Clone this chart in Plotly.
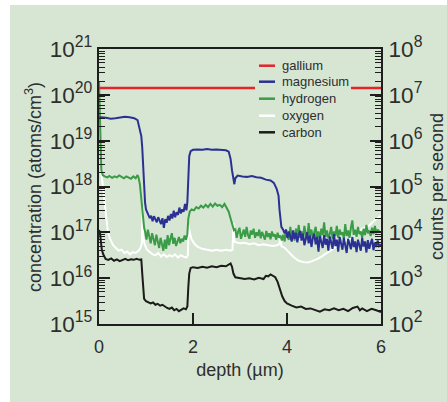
import plotly.graph_objects as go

# ---------------- data (depth in µm, log10 of concentration in atoms/cm^3) -------------
ga_depth = [0.0, 6.0]
ga_log10 = [20.15, 20.15]

mg_depth = [0.00, 0.05, 0.15, 0.25, 0.35, 0.45, 0.55, 0.65, 0.75, 0.82, 0.86, 0.90, 0.92, 0.94, 0.96, 0.98, 1.00, 1.03,
            1.05, 1.08, 1.11, 1.14, 1.17, 1.20, 1.23, 1.26, 1.29, 1.32, 1.35, 1.38, 1.41, 1.44, 1.47, 1.50, 1.53, 1.56,
            1.59, 1.62, 1.65, 1.68, 1.71, 1.74, 1.77, 1.80, 1.83, 1.86, 1.88,
            1.90, 1.92, 1.95, 2.00, 2.10, 2.20, 2.30, 2.40, 2.50, 2.60, 2.70, 2.76, 2.80, 2.83, 2.86, 2.88, 2.90, 2.95,
            3.05, 3.15, 3.25, 3.35, 3.45, 3.55, 3.65, 3.72, 3.78, 3.82, 3.84, 3.86, 3.88, 3.92,
            3.95, 3.98, 4.01, 4.04, 4.07, 4.10, 4.13, 4.16, 4.19, 4.22, 4.25, 4.28, 4.31, 4.34, 4.37, 4.40, 4.43, 4.46,
            4.49, 4.52, 4.55, 4.58, 4.61, 4.64, 4.67, 4.70, 4.73, 4.76, 4.79, 4.82, 4.85, 4.88, 4.91, 4.94, 4.97, 5.00,
            5.03, 5.06, 5.09, 5.12, 5.15, 5.18, 5.21, 5.24, 5.27, 5.30, 5.33, 5.36, 5.39, 5.42, 5.45, 5.48, 5.51, 5.54,
            5.57, 5.60, 5.63, 5.66, 5.69, 5.72, 5.75, 5.78, 5.81, 5.84, 5.87, 5.90, 5.93, 5.96, 6.00]
mg_log10 = [19.50, 19.51, 19.50, 19.48, 19.49, 19.51, 19.52, 19.51, 19.49, 19.45, 19.30, 19.10, 18.85, 18.40, 17.90, 17.65, 17.50, 17.42,
            17.38, 17.31, 17.36, 17.24, 17.35, 17.30, 17.22, 17.33, 17.27, 17.18, 17.31, 17.10, 17.29, 17.21, 17.36, 17.26, 17.40, 17.30,
            17.47, 17.33, 17.44, 17.38, 17.54, 17.41, 17.50, 17.45, 17.62, 17.48, 17.66,
            18.30, 18.66, 18.77, 18.80, 18.81, 18.80, 18.82, 18.80, 18.81, 18.80, 18.79, 18.76, 18.60, 18.35, 18.15, 18.05, 18.18, 18.24,
            18.22, 18.21, 18.23, 18.20, 18.19, 18.15, 18.13, 18.08, 17.95, 17.80, 17.50, 17.25, 17.12, 17.05,
            16.98, 17.06, 16.88, 17.02, 16.91, 16.80, 17.04, 16.86, 16.99, 16.78, 16.95, 17.03, 16.82, 16.97, 16.72, 16.90, 17.00, 16.76,
            16.93, 16.68, 16.88, 16.97, 16.74, 16.90, 16.58, 16.92, 16.80, 16.66, 16.94, 16.73, 16.86, 16.60, 16.91, 16.78, 16.64, 16.96,
            16.70, 16.84, 16.58, 16.90, 16.74, 16.62, 16.88, 16.70, 16.55, 16.86, 16.76, 16.63, 16.90, 16.68, 16.80, 16.57, 16.84, 16.72,
            16.60, 16.88, 16.69, 16.80, 16.56, 16.83, 16.64, 16.76, 16.86, 16.61, 16.78, 16.68, 16.82, 16.70, 16.74]

h_depth = [0.00, 0.01, 0.02, 0.03, 0.05, 0.08, 0.12, 0.18, 0.22, 0.28, 0.33, 0.38, 0.43, 0.48, 0.53, 0.58, 0.63, 0.68, 0.73,
           0.78, 0.82, 0.84, 0.87, 0.90, 0.92, 0.94, 0.96,
           0.98, 1.01, 1.04, 1.07, 1.10, 1.13, 1.16, 1.19, 1.22, 1.25, 1.28, 1.31, 1.34, 1.37, 1.40, 1.43, 1.46, 1.49, 1.52,
           1.55, 1.58, 1.61, 1.64, 1.67, 1.70, 1.73, 1.76, 1.79, 1.82, 1.85, 1.88,
           1.90, 1.93, 1.97, 2.02, 2.07, 2.12, 2.17, 2.22, 2.27, 2.32, 2.37, 2.42, 2.47, 2.52, 2.57, 2.62, 2.67, 2.72, 2.76,
           2.80, 2.84, 2.87,
           2.90, 2.93, 2.96, 2.99, 3.02, 3.05, 3.08, 3.11, 3.14, 3.17, 3.20, 3.23, 3.26, 3.29, 3.32, 3.35, 3.38, 3.41, 3.44,
           3.47, 3.50, 3.53, 3.56, 3.59, 3.62, 3.65, 3.68, 3.71, 3.74, 3.77, 3.80, 3.83, 3.86, 3.89,
           3.92, 3.95, 3.98, 4.01, 4.04, 4.07, 4.10, 4.13, 4.16, 4.19, 4.22, 4.25, 4.28, 4.31, 4.34, 4.37, 4.40, 4.43, 4.46,
           4.49, 4.52, 4.55, 4.58, 4.61, 4.64, 4.67, 4.70, 4.73, 4.76, 4.79, 4.82, 4.85, 4.88, 4.91, 4.94, 4.97, 5.00, 5.03,
           5.06, 5.09, 5.12, 5.15, 5.18, 5.21, 5.24, 5.27, 5.30, 5.33, 5.36, 5.39, 5.42, 5.45, 5.48, 5.51, 5.54, 5.57, 5.60,
           5.63, 5.66, 5.69, 5.72, 5.75, 5.78, 5.81, 5.84, 5.87, 5.90, 5.93, 5.96, 6.00]
h_log10 = [20.30, 19.80, 19.20, 18.70, 18.35, 18.25, 18.22, 18.20, 18.23, 18.19, 18.22, 18.20, 18.24, 18.21, 18.18, 18.22, 18.20, 18.17, 18.22,
           18.18, 18.25, 18.20, 18.05, 17.75, 17.45, 17.25, 17.10,
           17.02, 16.84, 17.06, 16.90, 16.76, 16.98, 16.82, 16.72, 16.95, 16.78, 16.66, 16.88, 16.70, 16.60, 16.84, 16.64, 16.94, 16.72, 16.86,
           16.98, 16.75, 16.88, 16.70, 16.82, 16.90, 16.76, 16.86, 16.80, 16.93, 16.84, 16.96,
           17.30, 17.45, 17.50, 17.48, 17.55, 17.52, 17.58, 17.54, 17.60, 17.55, 17.62, 17.56, 17.63, 17.58, 17.60, 17.55, 17.62, 17.52, 17.45,
           17.30, 17.15, 17.05,
           17.08, 16.88, 17.02, 17.10, 16.86, 16.98, 17.06, 16.90, 17.12, 16.94, 16.86, 17.04, 16.95, 17.08, 16.88, 17.00, 16.92, 17.06, 16.87,
           17.01, 16.93, 16.84, 17.03, 16.90, 16.98, 16.85, 17.02, 16.91, 16.96, 16.84, 16.99, 16.88, 16.93, 16.82,
           16.95, 16.80, 17.06, 16.90, 16.84, 17.12, 16.92, 17.00, 16.82, 17.08, 16.94, 17.16, 16.88, 17.02, 16.86, 17.14, 16.96, 16.85, 17.20,
           16.92, 17.06, 16.86, 17.00, 17.12, 16.88, 17.02, 16.84, 17.08, 16.94, 17.22, 16.90, 17.04, 16.88, 16.96, 17.12, 16.86, 17.02, 16.92,
           17.14, 16.88, 17.06, 16.95, 17.00, 16.86, 17.18, 16.92, 17.04, 16.88, 17.10, 17.26, 16.94, 17.06, 16.90, 17.12, 16.96, 17.02, 16.88,
           17.08, 16.94, 17.16, 16.98, 17.04, 16.92, 17.10, 16.96, 17.14, 16.98, 17.06, 17.02]

o_depth = [0.04, 0.06, 0.09, 0.12, 0.15, 0.19, 0.24, 0.30, 0.36, 0.42, 0.48, 0.54, 0.60, 0.66, 0.72, 0.78, 0.84, 0.88, 0.91,
           0.93, 0.94, 0.97, 1.02, 1.08, 1.14, 1.20, 1.26, 1.32, 1.38, 1.44, 1.50, 1.56, 1.62, 1.68, 1.74, 1.80, 1.86, 1.89,
           1.91, 1.93, 1.97, 2.03, 2.10, 2.20, 2.30, 2.40, 2.50, 2.60, 2.70, 2.80, 2.84, 2.86, 2.88, 2.92, 3.00, 3.10, 3.20,
           3.30, 3.40, 3.50, 3.60, 3.70, 3.80, 3.84, 3.86, 3.88, 3.95, 4.05, 4.15, 4.25, 4.35, 4.45, 4.55, 4.65, 4.75, 4.85,
           4.95, 5.05, 5.15, 5.25, 5.35, 5.45, 5.55, 5.65, 5.75, 5.85, 5.95, 6.00]
o_log10 = [18.40, 18.20, 18.00, 17.70, 17.30, 17.00, 16.85, 16.72, 16.66, 16.60, 16.62, 16.55, 16.58, 16.52, 16.57, 16.55, 16.60, 16.65, 16.75,
           17.55, 16.90, 16.74, 16.62, 16.56, 16.52, 16.50, 16.55, 16.47, 16.52, 16.46, 16.50, 16.47, 16.52, 16.45, 16.50, 16.47, 16.45, 16.50,
           17.15, 17.00, 16.85, 16.75, 16.68, 16.64, 16.62, 16.60, 16.62, 16.60, 16.62, 16.60, 16.62, 17.20, 16.80, 16.78, 16.76, 16.77, 16.74,
           16.76, 16.72, 16.74, 16.72, 16.70, 16.72, 16.75, 16.90, 16.70, 16.66, 16.55, 16.45, 16.38, 16.35, 16.34, 16.38, 16.42, 16.48, 16.55,
           16.62, 16.70, 16.76, 16.82, 16.86, 16.95, 17.05, 17.10, 17.15, 17.25, 17.32, 17.36]

c_depth = [0.00, 0.02, 0.04, 0.06, 0.09, 0.14, 0.20, 0.26, 0.32, 0.38, 0.44, 0.50, 0.56, 0.62, 0.68, 0.74, 0.80, 0.86, 0.90,
           0.92, 0.94, 0.96, 1.00, 1.05, 1.10, 1.15, 1.20, 1.25, 1.30, 1.35, 1.40, 1.45, 1.50, 1.55, 1.60, 1.65, 1.70, 1.75,
           1.80, 1.85, 1.88, 1.90, 1.92, 1.95, 2.00, 2.10, 2.20, 2.30, 2.40, 2.50, 2.60, 2.70, 2.76, 2.80, 2.83, 2.86, 2.90,
           3.00, 3.10, 3.20, 3.30, 3.40, 3.50, 3.55, 3.60, 3.65, 3.70, 3.75, 3.80, 3.85, 3.90, 3.95, 4.00, 4.10, 4.20, 4.30,
           4.40, 4.50, 4.60, 4.70, 4.80, 4.90, 5.00, 5.10, 5.20, 5.30, 5.40, 5.50, 5.55, 5.60, 5.70, 5.80, 5.90, 6.00]
c_log10 = [17.05, 17.00, 16.80, 16.62, 16.52, 16.42, 16.40, 16.43, 16.38, 16.41, 16.37, 16.40, 16.42, 16.39, 16.41, 16.40, 16.42, 16.40, 16.41,
           16.10, 15.70, 15.55, 15.50, 15.48, 15.45, 15.47, 15.42, 15.44, 15.40, 15.42, 15.38, 15.35, 15.33, 15.36, 15.30, 15.33, 15.28, 15.31,
           15.34, 15.32, 15.38, 15.80, 16.10, 16.22, 16.24, 16.22, 16.25, 16.23, 16.26, 16.24, 16.27, 16.26, 16.30, 16.32, 16.25, 16.10, 16.02,
           16.00, 15.98, 16.00, 15.97, 16.01, 15.98, 16.05, 16.04, 16.08, 16.05, 16.02, 15.92, 15.75, 15.60, 15.50, 15.45, 15.40, 15.36, 15.38,
           15.33, 15.34, 15.30, 15.27, 15.32, 15.30, 15.34, 15.30, 15.33, 15.28, 15.35, 15.38, 15.30, 15.34, 15.28, 15.33, 15.30, 15.26]

series_names = ["gallium", "magnesium", "hydrogen", "oxygen", "carbon"]
series_colors = ["#e3242b", "#2a3192", "#3a9c46", "#ffffff", "#1c1a1a"]
series_depth = [ga_depth, mg_depth, h_depth, o_depth, c_depth]
series_log10 = [ga_log10, mg_log10, h_log10, o_log10, c_log10]

x_ticks = [0, 2, 4, 6]

# ---------------- figure -----------------------------------------------------------------
W, H = 447, 402
L_, R_, T_, B_ = 99, 381, 49, 324  # plot area in pixels

def px(xp):
    return (xp - L_) / (R_ - L_)

def py(yp):
    return (B_ - yp) / (B_ - T_)

TXT = "#2e2e2e"
FONT = "Liberation Sans, Arial, sans-serif"
PLOT_BG = "#b7d4ae"
PANEL_BG = "#d6e6d3"

fig = go.Figure()
for i in [3, 2, 1, 4, 0]:  # oxygen, hydrogen, magnesium, carbon, gallium (drawing order)
    fig.add_trace(go.Scatter(
        x=series_depth[i], y=[10 ** v for v in series_log10[i]],
        mode="lines", name=series_names[i],
        line=dict(color=series_colors[i], width=2.0 if i != 0 else 2.5),
        showlegend=False))
# right-hand axis (counts per second) needs a trace to be drawn
fig.add_trace(go.Scatter(x=[None], y=[None], yaxis="y2", showlegend=False, hoverinfo="skip"))

axis_common = dict(showgrid=False, zeroline=False, showline=True, linecolor="#1e1e1e", linewidth=2,
                   ticks="inside", ticklen=11, tickwidth=1.6, tickcolor="#1e1e1e", automargin=False,
                   tickfont=dict(family=FONT, size=18, color=TXT))

fig.update_layout(
    width=W, height=H, autosize=False,
    margin=dict(l=L_, r=W - R_, t=T_, b=H - B_, pad=0),
    paper_bgcolor="white", plot_bgcolor=PLOT_BG,
    showlegend=False,
    xaxis=dict(range=[0, 6], tickvals=x_ticks, mirror=True, ticklabelstandoff=5,
               title=dict(text="depth (µm)", font=dict(family=FONT, size=18, color=TXT), standoff=8),
               **axis_common),
    yaxis=dict(type="log", range=[15, 21], dtick=1, exponentformat="power", ticklabelstandoff=1,
               minor=dict(ticks="inside", ticklen=6, tickwidth=1.2, tickcolor="#1e1e1e", dtick="D1"),
               **axis_common),
    yaxis2=dict(type="log", range=[2, 8], dtick=1, exponentformat="power", overlaying="y", side="right",
                ticklabelstandoff=2,
                minor=dict(ticks="inside", ticklen=6, tickwidth=1.2, tickcolor="#1e1e1e", dtick="D1"),
                title=dict(text="counts per second", font=dict(family=FONT, size=18, color=TXT), standoff=10),
                **axis_common),
)

shapes = [dict(type="rect", xref="paper", yref="paper", layer="below",
               x0=px(10), x1=px(447), y0=py(402), y1=py(5),
               fillcolor=PANEL_BG, line=dict(width=0))]
# legend box
shapes.append(dict(type="rect", xref="paper", yref="paper", layer="above",
                   x0=px(255), x1=px(351), y0=py(142), y1=py(56),
                   fillcolor=PANEL_BG, line=dict(width=0)))
rows = [65.7, 81.7, 98.7, 115.7, 132.3]
annotations = [dict(xref="paper", yref="paper", x=px(33), y=py(187), text="concentration (atoms/cm<sup>3</sup>)",
                    textangle=-90, xanchor="center", yanchor="middle", showarrow=False,
                    font=dict(family=FONT, size=18, color=TXT))]
for name, col, yr in zip(series_names, series_colors, rows):
    shapes.append(dict(type="line", xref="paper", yref="paper", layer="above",
                       x0=px(259), x1=px(275), y0=py(yr), y1=py(yr),
                       line=dict(color=col, width=2.5)))
    annotations.append(dict(xref="paper", yref="paper", x=px(280), y=py(yr), text=name,
                            xanchor="left", yanchor="middle", showarrow=False,
                            font=dict(family=FONT, size=13, color=TXT)))
fig.update_layout(shapes=shapes, annotations=annotations)

fig.write_html("out.html", config={"displayModeBar": False},
               post_script="document.body.style.margin='0px';")
